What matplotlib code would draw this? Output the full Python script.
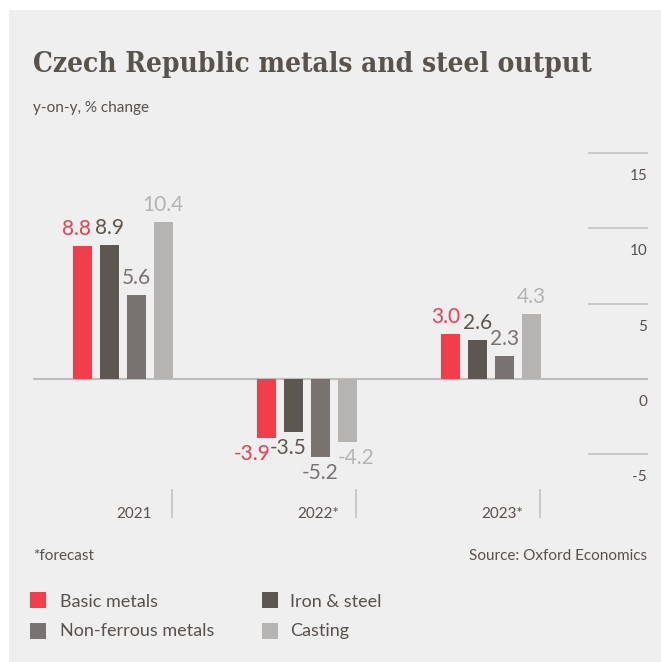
import matplotlib
matplotlib.use('Agg')
import matplotlib.pyplot as plt
import numpy as np
from matplotlib.patches import Rectangle

# data (bar heights as drawn; the 2023 non-ferrous bar is drawn shorter than its 2.3 label)
years = ['2021', '2022*', '2023*']
series = ['Basic metals', 'Iron & steel', 'Non-ferrous metals', 'Casting']
basic_metals = [8.8, -3.9, 3.0]
iron_steel = [8.9, -3.5, 2.6]
non_ferrous = [5.6, -5.2, 1.5]
casting = [10.4, -4.2, 4.3]
# labels as printed on the chart
basic_labels = ['8.8', '-3.9', '3.0']
iron_labels = ['8.9', '-3.5', '2.6']
non_ferrous_labels = ['5.6', '-5.2', '2.3']
casting_labels = ['10.4', '-4.2', '4.3']
grid_ticks = [-5, 0, 5, 10, 15]

values = [basic_metals, iron_steel, non_ferrous, casting]
labels = [basic_labels, iron_labels, non_ferrous_labels, casting_labels]
colors = ['#f23d4b', '#5c5750', '#787370', '#b5b4b2']
text_col = '#57524d'
# small pixel nudges for the value labels so they don't collide
label_dx = [[-6, -14, -5], [0, -5, 0], [0, 0, 0], [-1, 9, 0]]

plt.rcParams['font.family'] = ['Lato', 'DejaVu Sans']

W, H = 661, 662
fig = plt.figure(figsize=(W / 100, H / 100), dpi=100)
fig.patch.set_facecolor('white')


def fx(px):
    return px / W


def fy(py):
    return 1 - py / H


# grey panel (behind the axes)
fig.patches.append(Rectangle((fx(9), 0), 1.01 - fx(9), fy(10), transform=fig.transFigure,
                             facecolor='#efefef', edgecolor='none', zorder=-5))

# axes laid out in pixels: zero at y=379, 15.07 px per unit
zero_px, ppu = 379, 15.07
ymin, ymax = -10, 16
top_px = zero_px - ymax * ppu
bot_px = zero_px - ymin * ppu
ax = fig.add_axes([fx(33), fy(bot_px), fx(648) - fx(33), fy(top_px) - fy(bot_px)])
ax.set_ylim(ymin, ymax)
ax.set_xlim(-0.489, 2.853)
ax.axis('off')

x = np.arange(len(years))
step = 27 / 184
width = 19 / 184

ax.axhline(0, color='#bebebe', lw=1.5, zorder=2)
ax.hlines([t for t in grid_ticks if t != 0], 2.527, 2.853, color='#c6c6c6', lw=1.3, zorder=1)
for t in grid_ticks:
    ax.annotate(str(t), (2.848, t), xytext=(0, -27), textcoords='offset pixels',
                ha='right', va='baseline', fontsize=11, color=text_col)

for i, vals in enumerate(values):
    pos = x + (i - 1.5) * step
    ax.bar(pos, vals, width, color=colors[i], zorder=3)
    for j, v in enumerate(vals):
        dy = 11 if v >= 0 else -22
        ax.annotate(labels[i][j], (pos[j], v), xytext=(label_dx[i][j], dy),
                    textcoords='offset pixels', ha='center', va='baseline',
                    fontsize=15, color=colors[i])

# category separators and year labels
ax.vlines(x + 0.266, -9.22, -7.3, color='#c6c6c6', lw=1.3)
for xi, yr in zip(x, years):
    ax.text(xi + 0.06, -9.22, yr, ha='center', va='baseline', fontsize=11, color=text_col)

# title, fitted to the reference width
title = fig.text(fx(33), fy(72), 'Czech Republic metals and steel output', family='DejaVu Serif',
                 fontweight='bold', fontstretch='condensed', fontsize=22, color='#58534d',
                 va='baseline')
fig.canvas.draw()
bb = title.get_window_extent()
title.set_fontsize(22 * 557 / bb.width)

fig.text(fx(33), fy(112), 'y-on-y, % change', fontsize=11, color=text_col, va='baseline')
fig.text(fx(33), fy(560), '*forecast', fontsize=11, color=text_col, va='baseline')
fig.text(fx(647), fy(560), 'Source: Oxford Economics', fontsize=11, color=text_col,
         va='baseline', ha='right')

# legend
sq_x = [30, 262]
txt_x = [60, 290]
sq_y = [592, 623]
txt_y = [607, 636]
for i, name in enumerate(series):
    c, r = i % 2, i // 2
    fig.patches.append(Rectangle((fx(sq_x[c]), fy(sq_y[r] + 16)), 16 / W, 16 / H,
                                 transform=fig.transFigure, facecolor=colors[i],
                                 edgecolor='none'))
    fig.text(fx(txt_x[c]), fy(txt_y[r]), name, fontsize=13, color=text_col, va='baseline')

fig.savefig('out.png', dpi=100, facecolor='white')
